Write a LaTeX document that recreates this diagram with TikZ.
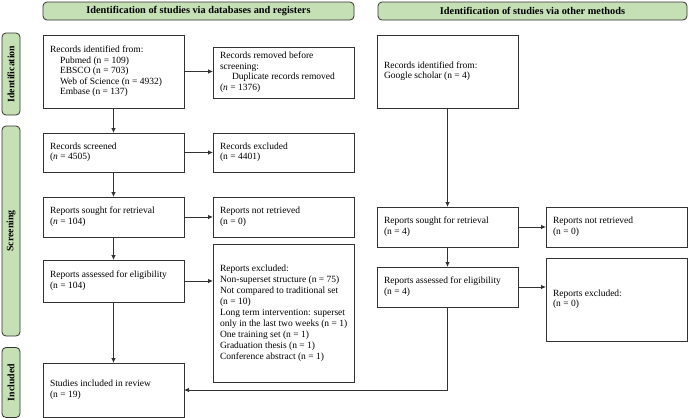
\documentclass[tikz,border=0pt]{standalone}
\usepackage{fontspec}
\setmainfont{Liberation Serif}
\usetikzlibrary{arrows.meta}
\definecolor{hdrgreen}{RGB}{197,224,180}
\definecolor{edge}{RGB}{50,50,50}
\newcommand{\lbox}[2]{\makebox[#1][l]{\begin{tabular}{@{}l@{}}#2\end{tabular}}}
\newcommand{\ind}{\hspace*{10pt}}
\tikzset{
  every node/.style={font=\fontsize{9.5}{10.5}\selectfont},
  box/.style={draw=edge, line width=0.8pt, fill=white, inner xsep=7pt, inner ysep=0pt, minimum height=#1, outer sep=0pt},
  hdr/.style={draw=edge, line width=0.8pt, fill=hdrgreen, rounded corners=4pt, minimum height=18pt, inner sep=0pt, font=\fontsize{10.3}{11}\selectfont\bfseries, outer sep=0pt},
  side/.style={draw=edge, line width=0.8pt, fill=hdrgreen, rounded corners=4pt, minimum width=#1, minimum height=18pt, inner sep=0pt, rotate=90, font=\fontsize{9.8}{10.5}\selectfont\bfseries, outer sep=0pt},
  arr/.style={draw=edge, line width=0.8pt, -{Latex[length=5pt,width=4.5pt]}},
  ln/.style={draw=edge, line width=0.8pt}
}
\begin{document}
\begin{tikzpicture}[x=1pt,y=-1pt]
\useasboundingbox (0,0) rectangle (689,418);
% headers
\node[hdr, minimum width=311pt] (h1) at (198.5,11) {Identification of studies via databases and registers};
\node[hdr, minimum width=309pt] (h2) at (532.5,11) {Identification of studies via other methods};
% side labels
\node[side=82pt] (s1) at (11,74) {Identification};
\node[side=210pt] (s2) at (11,231) {Screening};
\node[side=70pt] (s3) at (11,382.5) {Included};
% left column
\node[box=73pt] (b1) at (113.5,71.5) {\lbox{127pt}{Records identified from:\\ \ind Pubmed (n = 109)\\ \ind EBSCO (n = 703)\\ \ind Web of Science (n = 4932)\\ \ind Embase (n = 137)}};
\node[box=51pt] (rem) at (283.5,72.5) {\lbox{127pt}{Records removed before\\ screening:\\ \hspace*{12pt}Duplicate records removed\\ (\textit{n} = 1376)}};
\node[box=39pt] (scr) at (113.5,152.5) {\lbox{127pt}{Records screened\\ (\textit{n} = 4505)}};
\node[box=39pt] (exc) at (283.5,152.5) {\lbox{127pt}{Records excluded\\ (n = 4401)}};
\node[box=40pt] (sou) at (113.5,217) {\lbox{127pt}{Reports sought for retrieval\\ (\textit{n} = 104)}};
\node[box=40pt] (nre) at (283.5,217) {\lbox{127pt}{Reports not retrieved\\ (n = 0)}};
\node[box=42pt] (ass) at (113.5,281) {\lbox{127pt}{Reports assessed for eligibility\\ (n = 104)}};
\node[box=138pt, font=\fontsize{9.5}{11}\selectfont] (exl) at (283.5,313) {\lbox{127pt}{Reports excluded:\\ Non-superset structure (n = 75)\\ Not compared to traditional set\\ (n = 10)\\ Long term intervention: superset\\ only in the last two weeks (n = 1)\\ One training set (n = 1)\\ Graduation thesis (n = 1)\\ Conference abstract (n = 1)}};
\node[box=54pt] (inc) at (113.5,390) {\lbox{127pt}{Studies included in review\\ (n = 19)}};
% right column
\node[box=73pt] (g1) at (447.5,71.5) {\lbox{127pt}{Records identified from:\\ Google scholar (n = 4)}};
\node[box=40pt] (gso) at (447.5,227) {\lbox{127pt}{Reports sought for retrieval\\ (n = 4)}};
\node[box=40pt] (gnr) at (616.5,227) {\lbox{127pt}{Reports not retrieved\\ (n = 0)}};
\node[box=40pt] (gas) at (447.5,287) {\lbox{127pt}{Reports assessed for eligibility\\ (n = 4)}};
\node[box=83pt] (gex) at (616.5,299.5) {\lbox{127pt}{Reports excluded:\\ (n = 0)}};
% connectors
\draw[arr] (b1.east) -- (b1.east -| rem.west);
\draw[arr] (b1.south) -- (scr.north);
\draw[arr] (scr.east) -- (exc.west);
\draw[arr] (scr.south) -- (sou.north);
\draw[arr] (sou.east) -- (nre.west);
\draw[arr] (sou.south) -- (ass.north);
\draw[arr] (ass.east) -- (ass.east -| exl.west);
\draw[arr] (ass.south) -- (inc.north);
\draw[arr] (g1.south) -- (gso.north);
\draw[arr] (gso.east) -- (gnr.west);
\draw[arr] (gso.south) -- (gas.north);
\draw[arr] (gas.east) -- (gas.east -| gex.west);
\draw[arr] (gas.south) |- (inc.east);
\end{tikzpicture}
\end{document}
